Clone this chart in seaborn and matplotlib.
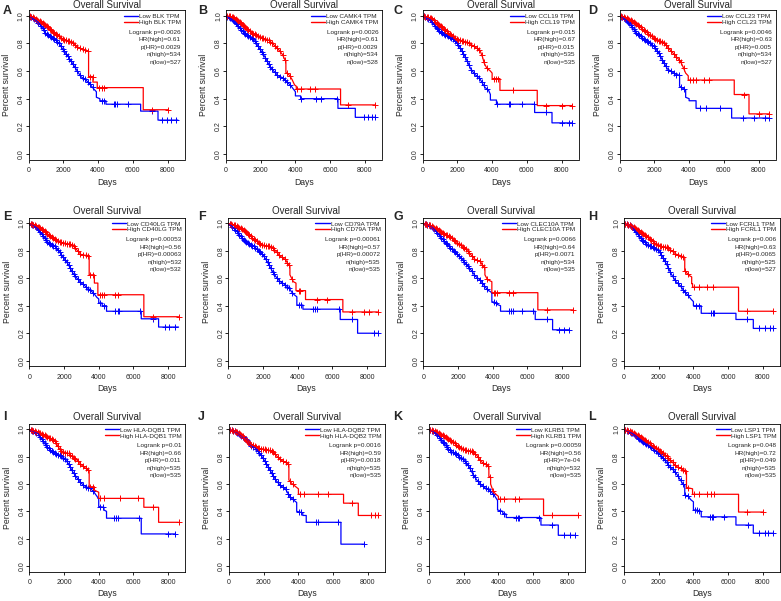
import matplotlib
matplotlib.use("Agg")
import matplotlib.pyplot as plt
from matplotlib.lines import Line2D
import numpy as np
import pandas as pd
import seaborn as sns

# ---------------------------------------------------------------- data
LETTERS = ["A", "B", "C", "D", "E", "F", "G", "H", "I", "J", "K", "L"]
GENES = ["BLK", "CAMK4", "CCL19", "CCL23", "CD40LG", "CD79A",
         "CLEC10A", "FCRL1", "HLA-DQB1", "HLA-DQB2", "KLRB1", "LSP1"]
LOGRANK_P = ["0.0026", "0.0026", "0.015", "0.0046", "0.00053", "0.00061",
             "0.0066", "0.006", "0.01", "0.0016", "0.00059", "0.048"]
HR_HIGH = ["0.61", "0.61", "0.67", "0.63", "0.56", "0.57",
           "0.64", "0.63", "0.66", "0.59", "0.56", "0.72"]
P_HR = ["0.0029", "0.0029", "0.015", "0.005", "0.00063", "0.00072",
        "0.0071", "0.0065", "0.011", "0.0018", "7e-04", "0.049"]
N_HIGH = [534, 534, 535, 534, 532, 535, 534, 525, 535, 535, 532, 535]
N_LOW = [527, 528, 535, 527, 532, 535, 535, 527, 535, 535, 535, 535]

# survival curves (days, survival), one list per panel
LOW_T = [
    [0, 250, 500, 750, 1000, 1250, 1500, 1750, 2000, 2250, 2500, 2750, 3000, 3250, 3500, 3750, 3900, 3900, 4100, 4100, 4450, 4450, 6450, 6450, 7450, 7450, 8600],
    [0, 250, 500, 750, 1000, 1250, 1500, 1750, 2000, 2250, 2500, 2750, 3000, 3300, 3500, 3700, 3850, 4000, 4000, 4300, 4300, 6450, 6450, 7450, 7450, 8600],
    [0, 250, 500, 750, 1000, 1250, 1500, 1750, 2000, 2250, 2500, 2750, 3000, 3250, 3450, 3600, 3800, 3900, 3900, 4250, 4250, 6450, 6450, 7450, 7450, 8600],
    [0, 250, 500, 750, 1000, 1250, 1500, 1750, 2000, 2250, 2500, 2750, 3000, 3250, 3450, 3450, 3700, 3800, 3800, 4000, 4000, 4400, 4400, 6450, 6450, 8600],
    [0, 250, 500, 750, 1000, 1250, 1500, 1750, 2000, 2250, 2500, 2750, 3000, 3250, 3500, 3750, 3900, 4000, 4000, 4200, 4200, 4450, 4450, 6450, 6450, 7450, 7450, 8600],
    [0, 250, 500, 750, 1000, 1250, 1500, 1750, 2000, 2250, 2500, 2750, 3000, 3250, 3500, 3650, 3800, 3950, 3950, 4300, 4300, 6450, 6450, 7450, 7450, 8600],
    [0, 250, 500, 750, 1000, 1250, 1500, 1750, 2000, 2250, 2500, 2750, 3000, 3250, 3500, 3700, 3900, 3950, 3950, 4250, 4250, 4450, 4450, 6450, 6450, 7450, 7450, 8400],
    [0, 250, 500, 750, 1000, 1250, 1500, 1750, 2000, 2250, 2500, 2750, 3000, 3250, 3500, 3700, 3850, 4000, 4000, 4450, 4450, 6450, 6450, 7450, 7450, 8600],
    [0, 250, 500, 750, 1000, 1250, 1500, 1750, 2000, 2250, 2500, 2750, 3000, 3250, 3500, 3700, 3900, 4000, 4000, 4300, 4300, 4450, 4450, 6450, 6450, 8400],
    [0, 250, 500, 750, 1000, 1250, 1500, 1750, 2000, 2250, 2500, 2750, 3000, 3250, 3500, 3700, 3900, 3900, 4250, 4250, 4450, 4450, 6450, 6450, 7800],
    [0, 250, 500, 750, 1000, 1250, 1500, 1750, 2000, 2250, 2500, 2750, 3000, 3250, 3500, 3750, 3900, 3950, 3950, 4250, 4250, 4450, 4450, 6450, 6450, 7450, 7450, 8400],
    [0, 250, 500, 750, 1000, 1250, 1500, 1750, 2000, 2250, 2500, 2750, 3000, 3250, 3400, 3500, 3500, 3700, 3850, 4000, 4000, 4250, 4250, 4450, 4450, 6450, 6450, 7450, 7450, 8600],
]
LOW_S = [
    [1.0, .98, .96, .92, .87, .85, .83, .80, .75, .71, .66, .61, .56, .54, .51, .47, .45, .41, .40, .385, .385, .36, .36, .31, .31, .245, .245],
    [1.0, .98, .96, .92, .88, .86, .84, .80, .75, .70, .64, .60, .565, .55, .52, .50, .475, .45, .42, .42, .40, .40, .33, .33, .265, .265],
    [1.0, .985, .965, .92, .885, .865, .85, .83, .80, .75, .69, .62, .575, .555, .51, .48, .46, .43, .39, .39, .36, .36, .30, .30, .225, .225],
    [1.0, .98, .955, .91, .87, .845, .825, .80, .775, .73, .67, .615, .595, .575, .57, .49, .47, .46, .41, .40, .385, .385, .33, .33, .26, .26],
    [1.0, .985, .96, .92, .87, .845, .83, .79, .745, .70, .64, .60, .565, .54, .515, .485, .46, .45, .42, .42, .40, .40, .36, .36, .305, .305, .245, .245],
    [1.0, .975, .94, .90, .865, .845, .83, .80, .77, .72, .66, .61, .575, .555, .53, .50, .48, .465, .405, .405, .375, .375, .30, .30, .20, .20],
    [1.0, .99, .975, .94, .90, .865, .83, .80, .77, .735, .70, .66, .615, .59, .55, .515, .50, .49, .43, .42, .41, .40, .36, .36, .30, .30, .225, .225],
    [1.0, .99, .97, .93, .885, .855, .835, .82, .80, .75, .69, .625, .575, .545, .50, .475, .45, .43, .40, .40, .345, .345, .30, .30, .235, .235],
    [1.0, .985, .97, .925, .875, .845, .825, .81, .79, .75, .69, .645, .605, .58, .57, .545, .51, .49, .435, .43, .41, .40, .35, .35, .235, .235],
    [1.0, .99, .975, .95, .925, .885, .865, .83, .78, .73, .67, .62, .585, .565, .51, .485, .465, .40, .39, .37, .37, .32, .32, .16, .16],
    [1.0, .985, .96, .92, .875, .84, .825, .80, .775, .74, .68, .63, .595, .57, .555, .52, .49, .48, .41, .40, .385, .38, .355, .355, .30, .30, .225, .225],
    [1.0, .985, .97, .945, .92, .895, .875, .85, .825, .79, .75, .715, .68, .63, .60, .59, .52, .51, .485, .47, .41, .41, .40, .40, .36, .36, .30, .30, .24, .24],
]
HIGH_T = [
    [0, 250, 500, 750, 1000, 1250, 1500, 1750, 2000, 2250, 2500, 2750, 3000, 3250, 3450, 3450, 3700, 3700, 3950, 3950, 6600, 6600, 8050],
    [0, 250, 500, 750, 1000, 1250, 1500, 1750, 2000, 2250, 2500, 2750, 3000, 3250, 3400, 3450, 3450, 3650, 3800, 3950, 4050, 4050, 6600, 6600, 8600],
    [0, 250, 500, 750, 1000, 1250, 1500, 1750, 2000, 2250, 2500, 2750, 3000, 3300, 3450, 3550, 3700, 3900, 4000, 4000, 4450, 4450, 6600, 6600, 8600],
    [0, 250, 500, 750, 1000, 1250, 1500, 1750, 2000, 2250, 2500, 2750, 3000, 3250, 3500, 3650, 3800, 3950, 3950, 6600, 6600, 7450, 7450, 8600],
    [0, 250, 500, 750, 1000, 1250, 1500, 1750, 2000, 2250, 2500, 2750, 3000, 3450, 3450, 3750, 3750, 3950, 3950, 6600, 6600, 8600],
    [0, 250, 500, 750, 1000, 1250, 1500, 1750, 2000, 2250, 2500, 2750, 3000, 3300, 3450, 3550, 3550, 3750, 3900, 3900, 4450, 4450, 6600, 6600, 8600],
    [0, 250, 500, 750, 1000, 1250, 1500, 1750, 2000, 2250, 2500, 2750, 3000, 3300, 3450, 3550, 3550, 3700, 3950, 3950, 6600, 6600, 8600],
    [0, 250, 500, 750, 1000, 1250, 1500, 1750, 2000, 2250, 2500, 2750, 3000, 3250, 3500, 3500, 3750, 3900, 3900, 3950, 3950, 6600, 6600, 8600],
    [0, 250, 500, 750, 1000, 1250, 1500, 1750, 2000, 2250, 2500, 2750, 3000, 3250, 3450, 3450, 3750, 3750, 4000, 4000, 6600, 6600, 7450, 7450, 8600],
    [0, 250, 500, 750, 1000, 1250, 1500, 1750, 2000, 2250, 2500, 2750, 3000, 3300, 3450, 3450, 3650, 3900, 4000, 4000, 6600, 6600, 7450, 7450, 8600],
    [0, 250, 500, 750, 1000, 1250, 1500, 1750, 2000, 2250, 2500, 2750, 3000, 3300, 3450, 3450, 3550, 3550, 3700, 3900, 4000, 4000, 6600, 6600, 8600],
    [0, 250, 500, 750, 1000, 1250, 1500, 1750, 2000, 2250, 2500, 2750, 3000, 3250, 3500, 3600, 3600, 3950, 3950, 6600, 6600, 8000],
]
HIGH_S = [
    [1.0, .99, .97, .95, .93, .90, .87, .85, .83, .82, .81, .78, .76, .75, .74, .56, .56, .52, .52, .48, .48, .32, .32],
    [1.0, .995, .985, .96, .93, .90, .875, .86, .845, .83, .82, .79, .76, .72, .68, .67, .59, .57, .54, .50, .49, .47, .47, .355, .355],
    [1.0, .99, .98, .955, .93, .90, .875, .85, .83, .82, .81, .795, .775, .75, .70, .655, .62, .60, .585, .545, .545, .46, .46, .35, .35],
    [1.0, .99, .975, .96, .94, .91, .885, .86, .835, .82, .81, .775, .74, .705, .67, .63, .585, .565, .535, .535, .43, .43, .29, .29],
    [1.0, .99, .975, .955, .93, .90, .88, .865, .855, .85, .84, .805, .77, .765, .625, .625, .565, .565, .48, .48, .32, .32],
    [1.0, .99, .98, .96, .94, .91, .88, .86, .84, .835, .83, .795, .76, .735, .70, .69, .625, .575, .565, .51, .51, .445, .445, .355, .355],
    [1.0, .99, .98, .96, .94, .92, .905, .88, .855, .83, .805, .77, .735, .72, .685, .68, .625, .59, .575, .495, .495, .37, .37],
    [1.0, .99, .975, .955, .93, .91, .885, .86, .835, .83, .825, .80, .775, .765, .75, .655, .62, .61, .56, .56, .535, .535, .36, .36],
    [1.0, .99, .98, .965, .95, .93, .91, .855, .83, .825, .80, .775, .74, .715, .70, .58, .58, .555, .54, .495, .495, .43, .43, .32, .32],
    [1.0, .99, .98, .955, .92, .89, .875, .86, .855, .85, .84, .805, .775, .755, .74, .63, .60, .575, .565, .525, .525, .46, .46, .37, .37],
    [1.0, .99, .98, .96, .94, .915, .895, .87, .85, .845, .84, .81, .765, .74, .73, .655, .65, .60, .545, .52, .51, .49, .49, .37, .37],
    [1.0, .99, .98, .96, .94, .915, .895, .87, .85, .825, .80, .765, .73, .715, .70, .695, .575, .565, .525, .525, .395, .395],
]
# censoring ticks: dense early ones (shared cohort) plus the tail ones per curve
EARLY_CENS = [80, 160, 240, 320, 400, 480, 560, 640, 720, 800, 880, 960, 1040, 1120,
              1200, 1290, 1380, 1470, 1560, 1650, 1750, 1850, 1950, 2050, 2150, 2260,
              2350, 2450, 2560, 2660, 2800, 2950, 3100, 3260, 3410, 3520, 3680]
LOW_CENS = [
    [4250, 4350, 4900, 5000, 5100, 5700, 7100, 7700, 7950, 8200, 8500],
    [4320, 5160, 5450, 6370, 7960, 8160, 8390, 8580],
    [4300, 4950, 5050, 5750, 6400, 7100, 8050, 8450, 8600],
    [4600, 4960, 5790, 7130, 7710, 8380, 8600],
    [4100, 4300, 4950, 5100, 5150, 6400, 7100, 7800, 8050, 8400],
    [4100, 4200, 4900, 5000, 5100, 6400, 7100, 8400, 8600],
    [4100, 4200, 4950, 5050, 5150, 5700, 6300, 7100, 7800, 8100, 8400],
    [4150, 4300, 5000, 5100, 5200, 7100, 7800, 8100, 8400, 8600],
    [4100, 4250, 4900, 5000, 5100, 6300, 8000, 8400],
    [4050, 4150, 5000, 5100, 6300, 7800],
    [4100, 4300, 5000, 5100, 5200, 6350, 7100, 7800, 8100, 8400],
    [4100, 4200, 4300, 4950, 5050, 5150, 5750, 7150, 7800, 8100, 8300, 8600],
]
HIGH_CENS = [
    [4050, 4200, 4350, 7100, 8050],
    [4070, 4320, 4840, 5120, 7040, 8600],
    [4100, 4220, 4320, 5220, 7080, 8040, 8600],
    [4060, 4250, 4380, 4880, 5150, 7190, 8000, 8600],
    [4050, 4200, 4300, 4950, 5100, 7100, 8600],
    [4050, 4150, 5100, 5700, 7100, 7800, 8100, 8600],
    [4050, 4150, 4250, 4950, 5150, 7100, 8600],
    [4050, 4300, 4800, 5150, 7100, 8600],
    [4050, 4300, 5200, 6250, 7150, 8600],
    [4100, 4350, 5100, 5700, 7100, 8200, 8400, 8600],
    [4100, 4300, 4950, 5200, 7100, 8600],
    [4050, 4300, 4800, 5000, 5200, 7100, 8000],
]

# ---------------------------------------------------------------- layout (pixels)
W, H = 781, 601
ROW_TOP = [10.2, 217.8, 423.9]
ROW_BOTTOM = [159.5, 366.2, 571.5]
COL_X0 = [[28.7, 226.0, 422.7, 619.7],
          [29.3, 228.3, 423.3, 624.0],
          [29.3, 229.0, 429.0, 624.0]]
AX_W = 156.2
TITLE_PAD = [1.0, 2.5, 2.5]
LETTER_Y = [10.5, 217.5, 417.5]
BLUE = "#0000FF"
RED = "#FF0000"

sns.set_theme(style="ticks")
plt.rcParams["font.family"] = ["Liberation Sans", "DejaVu Sans"]


def draw_panel(ax, k):
    for t, s, cens, col in [(LOW_T[k], LOW_S[k], LOW_CENS[k], BLUE),
                            (HIGH_T[k], HIGH_S[k], HIGH_CENS[k], RED)]:
        df = pd.DataFrame({"Days": t, "Surv": s})
        sns.lineplot(data=df, x="Days", y="Surv", sort=False, estimator=None,
                     color=col, lw=0.9, ax=ax)
        c = np.array(EARLY_CENS + cens, dtype=float)
        c = c[c <= max(t)]
        marks = pd.DataFrame({"Days": c, "Surv": np.interp(c, t, s)})
        sns.scatterplot(data=marks, x="Days", y="Surv", marker="+", color=col,
                        s=14, linewidth=0.7, ax=ax)

    ax.set_xlim(0, 9000)
    ax.set_ylim(-0.04, 1.04)
    ax.set_xticks([0, 2000, 4000, 6000, 8000])
    ax.set_yticks([0, 0.2, 0.4, 0.6, 0.8, 1.0])
    ax.set_yticklabels(["0.0", "0.2", "0.4", "0.6", "0.8", "1.0"])
    ax.tick_params(axis="both", labelsize=5, length=2.2, width=0.6, color="black")
    ax.tick_params(axis="x", pad=3.3)
    ax.tick_params(axis="y", pad=0.6, labelrotation=90)
    for lab in ax.get_yticklabels():
        lab.set_va("center")
    for sp in ax.spines.values():
        sp.set_visible(True)
        sp.set_linewidth(0.6)
        sp.set_color("black")

    ax.set_xlabel("Days", fontsize=6.2)
    ax.set_ylabel("Percent survival", fontsize=6.2)
    ax.xaxis.set_label_coords(0.5, -0.151)
    ax.xaxis.label.set_va("center")
    ax.yaxis.set_label_coords(-0.141, 0.5)
    ax.yaxis.label.set_va("center")

    handles = [Line2D([], [], color=BLUE, lw=1.0), Line2D([], [], color=RED, lw=1.0)]
    labels = [f"Low {GENES[k]} TPM", f"High {GENES[k]} TPM"]
    ax.legend(handles, labels, loc="upper right", bbox_to_anchor=(1 - 4 / AX_W, 1 - 3.4 / 150),
              frameon=False, fontsize=4.6, borderpad=0, borderaxespad=0,
              handlelength=2.2, handletextpad=0.15, labelspacing=0.05)
    stats = [f"Logrank p={LOGRANK_P[k]}", f"HR(high)={HR_HIGH[k]}", f"p(HR)={P_HR[k]}",
             f"n(high)={N_HIGH[k]}", f"n(low)={N_LOW[k]}"]
    for j, line in enumerate(stats):
        ax.text(1 - 4 / AX_W, 1 - (22.1 + 7.6 * j) / 150, line, transform=ax.transAxes,
                ha="right", va="center", fontsize=4.6)


fig = plt.figure(figsize=(W / 100, H / 100), dpi=100)
fig.patch.set_facecolor("white")
for k in range(12):
    r, c = divmod(k, 4)
    top, bot = ROW_TOP[r], ROW_BOTTOM[r]
    ax = fig.add_axes([COL_X0[r][c] / W, 1 - bot / H, AX_W / W, (bot - top) / H])
    draw_panel(ax, k)
    ax.set_title("Overall Survival", fontsize=7, pad=TITLE_PAD[r])
    fig.text((c * 195 + 3) / W, 1 - LETTER_Y[r] / H, LETTERS[k], fontsize=9,
             fontweight="bold", ha="left", va="center")

fig.savefig("out.png", dpi=100, facecolor="white")
